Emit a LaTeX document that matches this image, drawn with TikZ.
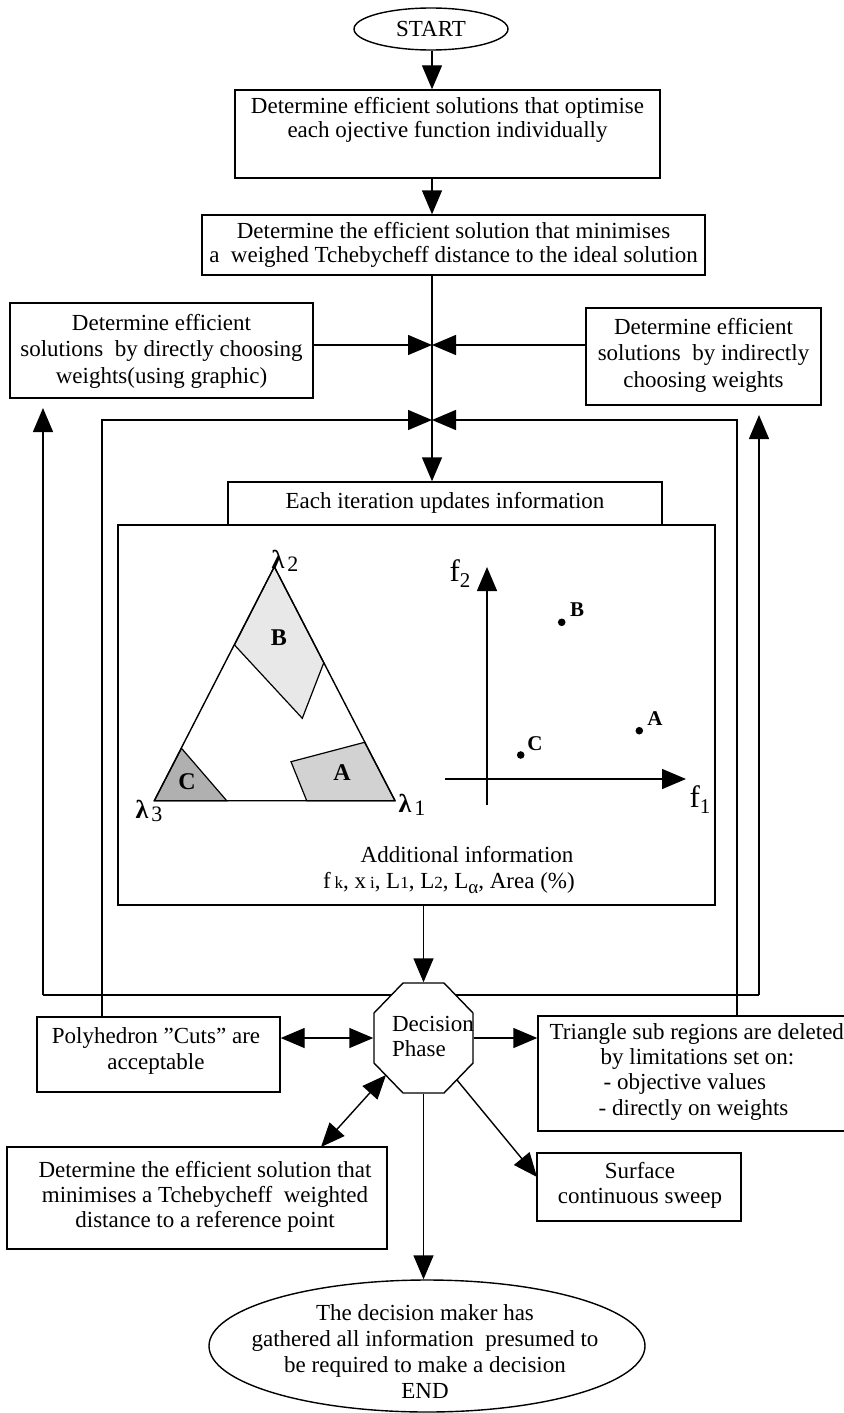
\documentclass[tikz,border=0pt]{standalone}
\usepackage{fontspec}
\setmainfont{Liberation Serif}
\usetikzlibrary{arrows.meta,shapes.geometric}
\newcommand\smf{\fontsize{17}{17}\selectfont}
\begin{document}
\begin{tikzpicture}[x=1pt,y=-1pt,line width=1.4pt,
  txt/.style={font=\fontsize{23}{25}\selectfont, align=center, inner sep=0pt},
  boxx/.style={draw, inner sep=0pt},
  arr/.style={-{Triangle[length=24pt,width=20pt]}},
  arrb/.style={{Triangle[length=24pt,width=20pt]}-{Triangle[length=24pt,width=20pt]}},
  lbl/.style={font=\bfseries\fontsize{24}{24}\selectfont, inner sep=0pt},
  plbl/.style={font=\bfseries\fontsize{21}{21}\selectfont, inner sep=0pt}]
\useasboundingbox (0,0) rectangle (843,1413);

% ---------- top chain ----------
\node[draw, ellipse, minimum width=154pt, minimum height=42pt, inner sep=0pt, txt] (start) at (431,29) {START};
\node[boxx, minimum width=425pt, minimum height=88pt] (b1) at (447.5,134) {};
\node[txt, font=\fontsize{23}{24}\selectfont] (b1t) at (447.5,120) {Determine efficient solutions that optimise\\each ojective function individually};
\node[boxx, minimum width=503pt, minimum height=60pt] (b2) at (453.5,245) {};
\node[txt, font=\fontsize{23}{24}\selectfont] (b2t) at (453.5,245) {Determine the efficient solution that minimises\\a\ \ weighed Tchebycheff distance to the ideal solution};

\node[boxx, minimum width=303pt, minimum height=95pt] (lb) at (161.5,350.5) {};
\node[txt, font=\fontsize{23}{26.5}\selectfont] (lbt) at (161.5,351) {Determine efficient\\solutions\ \ by directly choosing\\weights(using graphic)};
\node[boxx, minimum width=235pt, minimum height=97pt] (rb) at (703.5,356.5) {};
\node[txt, font=\fontsize{23}{26.5}\selectfont] (rbt) at (703.5,355) {Determine efficient\\solutions\ \ by indirectly\\choosing weights};

\node[boxx, minimum width=434pt, minimum height=43pt] (each) at (445,503.5) {};
\node[txt] (eacht) at (445,503) {Each iteration updates information};
\node[boxx, minimum width=597pt, minimum height=380pt] (inner) at (416.5,715) {};

% ---------- lower boxes ----------
\node[boxx, minimum width=243pt, minimum height=75pt] (pb) at (158.5,1054.5) {};
\node[txt, font=\fontsize{23}{26}\selectfont] (pbt) at (156,1051) {Polyhedron {\char34}Cuts{\char34} are\\acceptable};
\node[boxx, minimum width=317pt, minimum height=115pt] (tb) at (696.5,1073.5) {};
\node[txt, anchor=west] (tbt1) at (549,1034) {Triangle sub regions are deleted};
\node[txt, anchor=west] (tbt2) at (600,1059) {by limitations set on:};
\node[txt, anchor=west] (tbt3) at (603,1084) {- objective values};
\node[txt, anchor=west] (tbt4) at (598,1110) {- directly on weights};
\node[boxx, minimum width=380pt, minimum height=102pt] (refb) at (197,1198) {};
\node[txt] (refbt) at (205,1197) {Determine the efficient solution that\\minimises a Tchebycheff\ \ weighted\\distance to a reference point};
\node[boxx, minimum width=204pt, minimum height=68pt] (surf) at (639,1187) {};
\node[txt] (surft) at (640,1185) {Surface\\continuous sweep};
\node[draw, ellipse, minimum width=436pt, minimum height=132pt, inner sep=0pt] (endn) at (427,1346) {};
\node[txt, font=\fontsize{23}{26}\selectfont] (endt) at (425,1352) {The decision maker has\\gathered all information\ \ presumed to\\be required to make a decision\\END};

% ---------- connectors, upper part ----------
\coordinate (j1) at (432,345);
\coordinate (j2) at (432,420);
\draw[arr] (start.south -| j1) -- (b1.north -| j1);
\draw[arr] (b1.south -| j1) -- (b2.north -| j1);
\draw (b2.south -| j1) -- (j2);
\draw[arr] (j2) -- (each.north -| j2);
\draw[arr] (lb.east |- j1) -- (j1);
\draw[arr] (rb.west |- j1) -- (j1);
\coordinate (il) at (102,420);
\coordinate (ir) at (737,420);
\draw[arr] (il |- pb.north) -- (il) -- (j2);
\draw[arr] (ir |- tb.north) -- (ir) -- (j2);
\coordinate (ol) at (43,995);
\coordinate (or) at (759,995);
\coordinate (olt) at (43,408);
\coordinate (ort) at (759,415);
\draw (ol) -- (or);
\draw[arr] (ol) -- (olt);
\draw[arr] (or) -- (ort);

% ---------- triangle diagram ----------
\coordinate (L2) at (274.3,566.7);
\coordinate (L3) at (154.3,800.7);
\coordinate (L1) at (395,800.7);
\draw[fill=gray!18, line width=1.2pt] (L2) -- (234.5,645) -- (302.3,718.3) -- (323.8,662.7) -- cycle;
\draw[fill=gray!35, line width=1.2pt] (291,761.7) -- (364.6,742.3) -- (L1) -- (306.7,800.7) -- cycle;
\draw[fill=gray!62, line width=1.2pt] (L3) -- (181.5,748.3) -- (226.7,800.7) -- cycle;
\draw[line join=round] (L2) -- (L1) -- (L3) -- cycle;
\node[lbl] (tB) at (279,638) {B};
\node[lbl] (tA) at (342,773) {A};
\node[lbl] (tC) at (187,782) {C};
\node[inner sep=0pt, font=\fontsize{26}{26}\selectfont] (lam2) at (285,561) {\textbf{λ}\kern3pt\raisebox{-3pt}{\fontsize{22}{22}\selectfont 2}};
\node[inner sep=0pt, font=\fontsize{26}{26}\selectfont] (lam1) at (412,805) {\textbf{λ}\kern3pt\raisebox{-3pt}{\fontsize{22}{22}\selectfont 1}};
\node[inner sep=0pt, font=\fontsize{26}{26}\selectfont] (lam3) at (149,811) {\textbf{λ}\kern3pt\raisebox{-3pt}{\fontsize{22}{22}\selectfont 3}};

% ---------- objective plot ----------
\coordinate (ax1s) at (445,779);
\coordinate (ax1e) at (686,779);
\coordinate (ax2s) at (487,805);
\coordinate (ax2e) at (487,567);
\draw[arr] (ax1s) -- (ax1e);
\draw[arr] (ax2s) -- (ax2e);
\node[inner sep=0pt, font=\fontsize{31}{31}\selectfont] (f2) at (460,574) {f\raisebox{-6pt}{\fontsize{21}{21}\selectfont 2}};
\node[inner sep=0pt, font=\fontsize{31}{31}\selectfont] (f1) at (700,800) {f\raisebox{-6pt}{\fontsize{21}{21}\selectfont 1}};
\fill (561.7,622.3) circle[radius=3.8pt];
\fill (639.3,730.7) circle[radius=3.8pt];
\fill (520.7,755) circle[radius=3.8pt];
\node[plbl] (pB) at (577,610) {B};
\node[plbl] (pA) at (655,719) {A};
\node[plbl] (pC) at (535,744) {C};

\node[txt] (addi) at (467,855) {Additional information};
\node[txt] (addf) at (449,883) {f\,{\smf k}, x\,{\smf i}, L{\smf 1}, L{\smf 2}, L\raisebox{-5pt}{\fontsize{19}{19}\selectfont α}, Area (\%)};

% ---------- decision phase ----------
\draw[fill=white] (403,983) -- (444,983) -- (473,1013) -- (473,1063) -- (444,1093) -- (403,1093) -- (374,1063) -- (374,1013) -- cycle;
\node[minimum width=99pt, minimum height=110pt, inner sep=0pt] (dec) at (423.5,1038) {};
\node[txt, align=left] (dect) at (433,1036) {Decision\\Phase};

\draw[arr] (dec.north |- inner.south) -- (dec.north);
\draw[arrb] (pb.east |- dec.west) -- (dec.west);
\draw[arr] (dec.east) -- (dec.east -| tb.west);
\coordinate (decSW) at (386,1075);
\coordinate (refT) at (321,1147);
\draw[arrb] (decSW) -- (refT);
\coordinate (decSE) at (457,1080);
\coordinate (surfL) at (537,1177);
\draw[arr] (decSE) -- (surfL);
\draw[arr] (dec.south) -- (dec.south |- endn.north);
\end{tikzpicture}
\end{document}
